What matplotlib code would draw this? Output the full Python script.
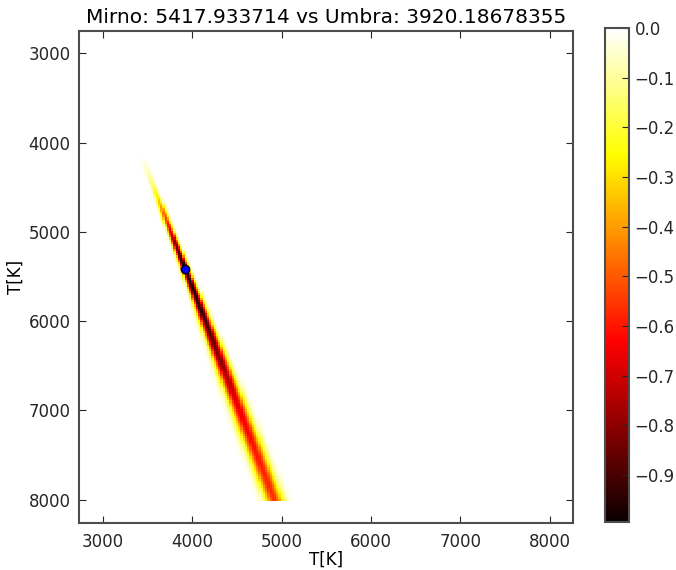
"""Carte de vraisemblance Mirno / Umbra (T en K)."""

import matplotlib

matplotlib.use("Agg")
import matplotlib.pyplot as plt
import numpy as np

TITLE = "Mirno: 5417.933714 vs Umbra: 3920.18678355"
best_mirno = 5417.933714
best_umbra = 3920.18678355

# grille des températures (K)
t_min, t_max, t_step = 3000, 8000, 25
ticks_t = [3000, 4000, 5000, 6000, 7000, 8000]
ticks_cb = [-0.9, -0.8, -0.7, -0.6, -0.5, -0.4, -0.3, -0.2, -0.1, 0.0]

# bande : noeuds le long de l'axe Mirno (y)
knot_y = [4150, 4300, 4500, 4700, 4900, 5100, 5300, 5418, 5700, 6100, 6600, 7000, 7500, 8000]
knot_depth = [0.0, 0.06, 0.18, 0.38, 0.6, 0.8, 0.95, 0.998, 0.97, 0.9, 0.76, 0.66, 0.6, 0.56]
knot_sigma = [22, 23, 24, 25, 27, 28, 29, 30, 36, 46, 57, 65, 69, 72]
centre_y = [3000, 5418, 8000]
centre_x = [2988, 3920, 4915]

plt.rcParams.update({
    "font.family": "DejaVu Sans",
    "xtick.direction": "in",
    "ytick.direction": "in",
    "xtick.top": True,
    "ytick.right": True,
    "xtick.major.size": 5,
    "ytick.major.size": 5,
    "xtick.major.pad": 7,
    "ytick.major.pad": 6,
})

t = np.arange(t_min, t_max + t_step, t_step)
gx, gy = np.meshgrid(t, t)
xc = np.interp(gy, centre_y, centre_x)
sig = np.interp(gy, knot_y, knot_sigma)
depth = np.interp(gy, knot_y, knot_depth)
field = -depth * np.exp(-0.5 * ((gx - xc) / sig) ** 2)

fig = plt.figure(figsize=(6.76, 5.70), dpi=100)
ax = fig.add_axes([79 / 676, 47 / 570, 494 / 676, 492 / 570])
half = t_step / 2
im = ax.imshow(
    field,
    cmap="hot",
    origin="upper",
    extent=(t_min - half, t_max + half, t_max + half, t_min - half),
    interpolation="nearest",
    vmin=field.min(),
    vmax=0.0,
    aspect="auto",
)
ax.plot(best_umbra, best_mirno, "o", color="b", mec="k", ms=6, mew=1)
ax.set_xlim(2730, 8262)
ax.set_ylim(8262, 2750)
ax.set_xticks(ticks_t)
ax.set_yticks(ticks_t)
ax.tick_params(labelsize=12, colors="0.15")
for sp in ax.spines.values():
    sp.set_color("0.3")
    sp.set_linewidth(1.5)
ax.set_xlabel("T[K]", fontsize=12, labelpad=0)
ax.set_ylabel("T[K]", fontsize=12, labelpad=3)
ax.set_title(TITLE, fontsize=14.5, pad=6)

cax = fig.add_axes([605 / 676, 48 / 570, 24 / 676, 494 / 570])
cbar = fig.colorbar(im, cax=cax, ticks=ticks_cb)
cbar.ax.tick_params(direction="in", length=5, labelsize=12, colors="0.15", pad=4)
cbar.outline.set_edgecolor("0.3")
cbar.outline.set_linewidth(1.5)

fig.savefig("out.png", dpi=100)
